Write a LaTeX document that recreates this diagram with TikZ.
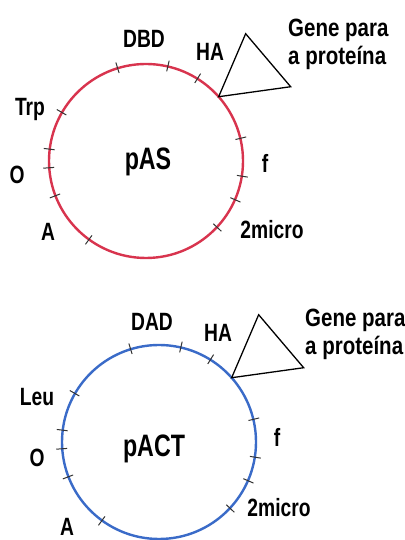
\documentclass[tikz,border=0pt]{standalone}
\usepackage{fontspec}
\setmainfont{Liberation Sans}
\newfontfamily\lblf{Liberation Sans}[UprightFont=*-Bold, FakeStretch=0.77]
\newfontfamily\genef{Liberation Sans}[UprightFont=*-Bold, FakeStretch=0.82]
\newfontfamily\titf{Liberation Sans}[UprightFont=*-Bold, FakeStretch=0.75]
\usetikzlibrary{calc}
\definecolor{plred}{HTML}{D8344E}
\definecolor{plblue}{HTML}{3A6BC8}
\tikzset{
  ring/.style={line width=2.4pt},
  tickmark/.style={line width=1pt, black!80},
  gene/.style={line width=1.3pt, black},
  lbl/.style={font=\lblf\fontsize{25}{25}\selectfont, inner sep=0pt},
  glbl/.style={font=\genef\fontsize{25}{28}\selectfont, inner sep=0pt, align=left},
  title/.style={font=\titf\fontsize{31}{31}\selectfont, inner sep=0pt}
}
\newcommand{\plasmid}[3]{%
  \draw[ring, #2] (#1) circle (97);
  \foreach \a in {107,77,58,150,173,184,201,234,13.5,-9,-23.5,-43}{
    \draw[tickmark] ($(#1)+(\a:92)$) -- ($(#1)+(\a:103)$);
  }
  \coordinate (#3att) at ($(#1)+(41.5:97)$);
  \coordinate (#3apex) at ($(#3att)+(27,63)$);
  \coordinate (#3rt) at ($(#3att)+(72,10)$);
  \draw[gene] (#3att) -- (#3apex) -- (#3rt) -- cycle;
}
\begin{document}
\begin{tikzpicture}[x=1pt,y=1pt]
\useasboundingbox (0,0) rectangle (404,540);
\coordinate (c1) at (146,379);
\plasmid{c1}{plred}{t}
\node[title, anchor=base] (tname) at (148,370) {pAS};
\node[lbl] (dbd) at (144,501) {DBD};
\node[lbl] (ha1) at (210,488) {HA};
\node[glbl, anchor=base west] (g1) at (288,475) {Gene para\\a proteína};
\node[lbl] (trp) at (30,430) {Trp};
\node[lbl] (o1) at (17,365) {O};
\node[lbl] (a1) at (48,308) {A};
\node[lbl] (f1) at (265,377) {f};
\node[lbl] (m1) at (272,310) {2micro};
\coordinate (c2) at (159,98);
\plasmid{c2}{plblue}{b}
\node[title, anchor=base] (bname) at (154,83) {pACT};
\node[lbl] (dad) at (152,218) {DAD};
\node[lbl] (ha2) at (218,207) {HA};
\node[glbl, anchor=base west] (g2) at (305,185) {Gene para\\a proteína};
\node[lbl] (leu) at (37,143) {Leu};
\node[lbl] (o2) at (37,82) {O};
\node[lbl] (a2) at (67,13) {A};
\node[lbl] (f2) at (277,103) {f};
\node[lbl] (m2) at (279,32) {2micro};
\end{tikzpicture}
\end{document}
